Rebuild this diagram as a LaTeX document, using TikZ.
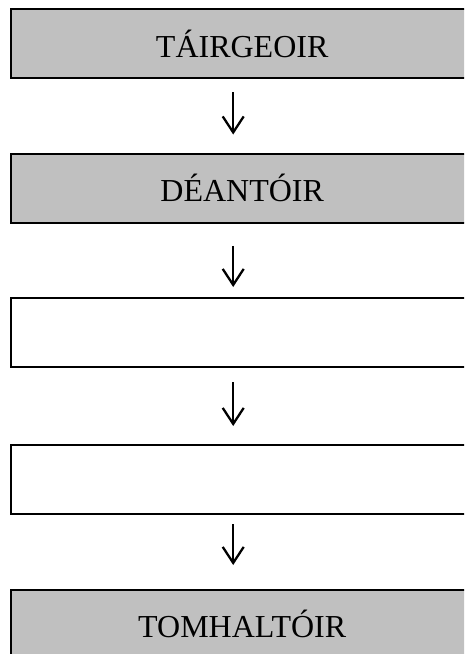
\documentclass[tikz,border=0pt]{standalone}
\usepackage{fontspec}
\setmainfont{Liberation Serif}
\usetikzlibrary{arrows.meta}
\begin{document}
\begin{tikzpicture}[x=1pt,y=-1pt,
  box/.style={draw=black,line width=2.4pt,rectangle,minimum width=462pt,minimum height=69pt,inner sep=0pt,anchor=north west,font=\fontsize{32}{36}\selectfont},
  grey/.style={box,fill={rgb,255:red,192;green,192;blue,192}},
  plain/.style={box,fill=white},
  arr/.style={line width=2.3pt,-{Straight Barb[length=16pt,width=21pt,line width=2.3pt]}}]
\useasboundingbox (0,0) rectangle (464,654);
\clip (0,0) rectangle (464,654);
\node[grey]  (b1) at (10,8)   {TÁIRGEOIR};
\node[grey]  (b2) at (10,152.5) {DÉANTÓIR};
\node[plain] (b3) at (10,297) {};
\node[plain] (b4) at (10,444) {};
\node[grey,minimum height=100pt]  (b5) at (10,589) {};
\node[font=\fontsize{32}{36}\selectfont] (t5) at ([yshift=-34.5pt]b5.north) {TOMHALTÓIR};
\draw[arr] ([xshift=-9pt,yshift=-13pt]b1.south) -- ([xshift=-9pt,yshift=18pt]b2.north);
\draw[arr] ([xshift=-9pt,yshift=-22pt]b2.south) -- ([xshift=-9pt,yshift=10pt]b3.north);
\draw[arr] ([xshift=-9pt,yshift=-14pt]b3.south) -- ([xshift=-9pt,yshift=18pt]b4.north);
\draw[arr] ([xshift=-9pt,yshift=-9pt]b4.south) -- ([xshift=-9pt,yshift=24pt]b5.north);
\end{tikzpicture}
\end{document}
